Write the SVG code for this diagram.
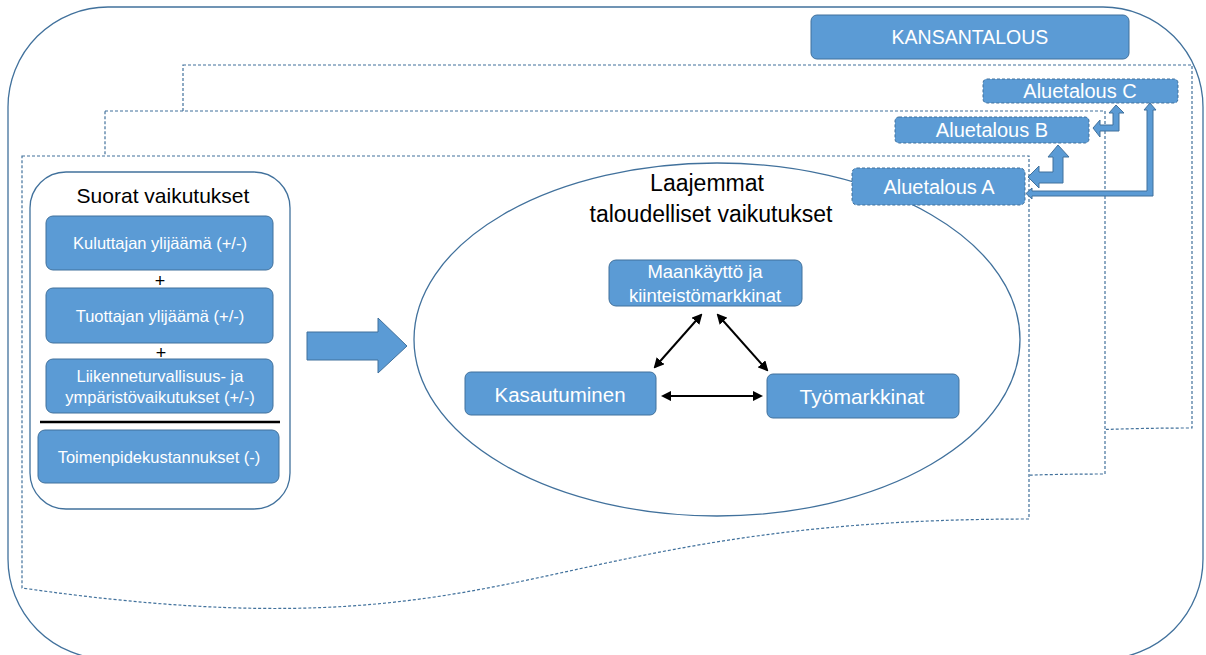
<svg xmlns="http://www.w3.org/2000/svg" width="1206" height="655" viewBox="0 0 1206 655">
<defs>
<style>
.outline{fill:none;stroke:#41719C;stroke-width:1.3}
.page{fill:#FFFFFF;stroke:#41719C;stroke-width:1.2;stroke-dasharray:3,2}
.box{fill:#5B9BD5;stroke:#41719C;stroke-width:1}
.dbox{fill:#5B9BD5;stroke:#41719C;stroke-width:1;stroke-dasharray:3,2}
.wt{fill:#FFFFFF;font-family:"Liberation Sans",Arial,sans-serif;text-anchor:middle}
.bt{fill:#000000;font-family:"Liberation Sans",Arial,sans-serif;text-anchor:middle}
.blk{fill:#5B9BD5;stroke:#41719C;stroke-width:1}
.dbl{stroke:#000000;stroke-width:2;fill:none;marker-start:url(#ah);marker-end:url(#ah)}
</style>
<marker id="ah" viewBox="0 0 10 10" refX="8" refY="5" markerWidth="5.2" markerHeight="5.2" orient="auto-start-reverse" markerUnits="strokeWidth">
<path d="M0,0 L10,5 L0,10 Z" fill="#000000"/>
</marker>
</defs>
<rect width="1206" height="655" fill="#FFFFFF"/>
<g id="kansantalous-frame">
<rect class="outline" x="8" y="7" width="1195" height="652" rx="100" ry="100"/>
</g>
<g id="kansantalous">
<rect class="box" x="811" y="15" width="318" height="44" rx="6"/>
<text class="wt" x="970" y="44" font-size="19.5">KANSANTALOUS</text>
</g>
<g id="page-c">
<path class="page" d="M183,65 H1192 V428 C687,428 687,569 183,497 Z"/>
</g>
<g id="aluetalous-c">
<rect class="dbox" x="983" y="79" width="195" height="24" rx="4"/>
<text class="wt" x="1080" y="98" font-size="20">Aluetalous C</text>
</g>
<g id="page-b">
<path class="page" d="M105,111 H1105 V474 C605,474 605,615 105,543 Z"/>
</g>
<g id="aluetalous-b">
<rect class="dbox" x="895" y="117" width="194" height="26" rx="4"/>
<text class="wt" x="992" y="137" font-size="20">Aluetalous B</text>
</g>
<g id="page-a">
<path class="page" d="M22,156 H1029 V519 C525,519 525,660 22,588 Z"/>
</g>
<g id="suorat-vaikutukset">
<rect class="outline" x="30" y="172" width="260" height="337" rx="36"/>
<text class="bt" x="163" y="203" font-size="21">Suorat vaikutukset</text>
</g>
<g id="kuluttajan">
<rect class="box" x="46" y="216" width="227" height="54" rx="7"/>
<text class="wt" x="160" y="249" font-size="16.5">Kuluttajan ylijäämä (+/-)</text>
</g>
<text class="bt" x="160" y="287" font-size="18">+</text>
<g id="tuottajan">
<rect class="box" x="46" y="288" width="227" height="55" rx="7"/>
<text class="wt" x="160" y="322" font-size="16.5">Tuottajan ylijäämä (+/-)</text>
</g>
<text class="bt" x="161" y="359" font-size="18">+</text>
<g id="liikenneturvallisuus">
<rect class="box" x="46" y="359" width="227" height="54" rx="7"/>
<text class="wt" x="160" y="382" font-size="16.5">Liikenneturvallisuus- ja</text>
<text class="wt" x="160" y="403" font-size="16.5">ympäristövaikutukset (+/-)</text>
</g>
<line x1="40" y1="422" x2="280" y2="422" stroke="#000000" stroke-width="2.5"/>
<g id="toimenpidekustannukset">
<rect class="box" x="38" y="430" width="241" height="53" rx="7"/>
<text class="wt" x="159" y="463" font-size="16.5">Toimenpidekustannukset (-)</text>
</g>
<g id="laajemmat">
<ellipse class="outline" cx="717" cy="339.5" rx="303" ry="176.5"/>
<text class="bt" x="707" y="191" font-size="23">Laajemmat</text>
<text class="bt" x="711" y="222" font-size="23">taloudelliset vaikutukset</text>
</g>
<g id="maankaytto">
<rect class="box" x="609" y="260" width="193" height="46" rx="7"/>
<text class="wt" x="705" y="278" font-size="18.5">Maankäyttö ja</text>
<text class="wt" x="705" y="302" font-size="18.5">kiinteistömarkkinat</text>
</g>
<g id="kasautuminen">
<rect class="box" x="465" y="372" width="191" height="43" rx="6"/>
<text class="wt" x="560" y="402" font-size="20.5">Kasautuminen</text>
</g>
<g id="tyomarkkinat">
<rect class="box" x="767" y="374" width="192" height="44" rx="6"/>
<text class="wt" x="862" y="404" font-size="21">Työmarkkinat</text>
</g>
<g id="aluetalous-a">
<rect class="dbox" x="852" y="168" width="173" height="37" rx="5"/>
<text class="wt" x="939" y="194" font-size="20">Aluetalous A</text>
</g>
<g id="connectors">
<polygon class="blk" points="307,332 378,332 378,318 407,346 378,373 378,360 307,360"/>
<line class="dbl" x1="701" y1="315" x2="655" y2="367"/>
<line class="dbl" x1="718" y1="315" x2="767" y2="370"/>
<line class="dbl" x1="663" y1="396" x2="761" y2="396"/>
<polygon class="blk" points="1058,145 1069,157 1063,157 1063,183 1039,183 1039,188 1028,177 1039,166 1039,172 1053,172 1053,157 1048,157"/>
<polygon class="blk" points="1116,105 1124,113 1119,113 1119,131 1100,131 1100,137 1093,128 1100,120 1100,125 1113,125 1113,113 1109,113"/>
<polygon class="blk" points="1150,103 1156,110 1153,110 1153,196 1032,196 1032,199 1026,193.5 1032,188 1032,191 1147,191 1147,110 1144,110"/>
</g>
</svg>
